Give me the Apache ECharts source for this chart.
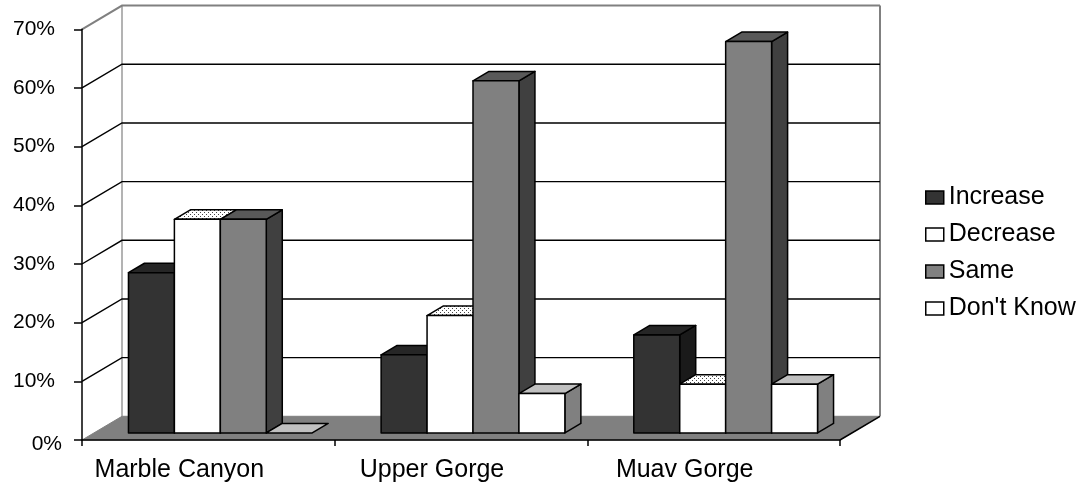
<!DOCTYPE html>
<html>
<head>
<meta charset="utf-8">
<script src="https://cdn.jsdelivr.net/npm/echarts@6/dist/echarts.min.js"></script>
<style>
  html, body { margin: 0; padding: 0; background: #ffffff; }
  #chart { width: 1086px; height: 487px; }
</style>
</head>
<body>
<div id="chart"></div>
<script>
// Survey answers per canyon reach (share of respondents, %)
const categories = ['Marble Canyon', 'Upper Gorge', 'Muav Gorge'];
const increase = [27.3, 13.3, 16.7];
const decrease = [36.4, 20.0, 8.3];
const same = [36.4, 60.0, 66.7];
const dontKnow = [0, 6.7, 8.3];
const valueTicks = [0, 10, 20, 30, 40, 50, 60, 70];

const FONT = "'Liberation Sans', Arial, Helvetica, sans-serif";

// Perspective offset from the front plane to the back wall
const DX = 40, DY = -23.7;
// Bars sit part-way into the box and take up part of its depth
const BAR_FRONT = 0.3, BAR_DEPTH = 0.4;
// Gap between clusters, in bar widths
const GAP = 1.5;

// Stippled fill used on the top of the "Decrease" bars
const stipple = (function () {
  const c = document.createElement('canvas');
  c.width = 4; c.height = 4;
  const g = c.getContext('2d');
  g.fillStyle = '#ffffff'; g.fillRect(0, 0, 4, 4);
  g.fillStyle = '#444444';
  g.fillRect(0, 0, 1, 1);
  g.fillRect(2, 2, 1, 1);
  return c;
})();

const seriesDefs = [
  { name: 'Increase',   data: increase, front: '#333333', top: '#262626', side: '#1a1a1a' },
  { name: 'Decrease',   data: decrease, front: '#ffffff', top: { image: stipple, repeat: 'repeat' }, side: '#bfbfbf' },
  { name: 'Same',       data: same,     front: '#808080', top: '#595959', side: '#404040' },
  { name: "Don't Know", data: dontKnow, front: '#ffffff', top: '#c0c0c0', side: '#808080' }
];

const edge = { stroke: '#000000', lineWidth: 1.5, lineJoin: 'round' };

function barRenderer(k, def) {
  return function (params, api) {
    const i = api.value(0);
    const v = api.value(1);
    const band = api.size([1, 0])[0];
    const w = band / (seriesDefs.length + GAP);
    const base = api.coord([i, 0]);
    const topY = api.coord([i, v])[1];
    const x0 = base[0] - band / 2 + w * GAP / 2 + k * w + BAR_FRONT * DX;
    const x1 = x0 + w;
    const yT = topY + BAR_FRONT * DY;
    const yB = base[1] + BAR_FRONT * DY;
    const dx = BAR_DEPTH * DX, dy = BAR_DEPTH * DY;
    const children = [];
    if (yB - yT > 0.5) {
      children.push({
        type: 'polygon',
        shape: { points: [[x1, yT], [x1 + dx, yT + dy], [x1 + dx, yB + dy], [x1, yB]] },
        style: Object.assign({ fill: def.side }, edge)
      });
    }
    children.push({
      type: 'polygon',
      shape: { points: [[x0, yT], [x1, yT], [x1 + dx, yT + dy], [x0 + dx, yT + dy]] },
      style: Object.assign({ fill: def.top }, edge)
    });
    if (yB - yT > 0.5) {
      children.push({
        type: 'rect',
        shape: { x: x0, y: yT, width: w, height: yB - yT },
        style: Object.assign({ fill: def.front }, edge)
      });
    }
    return { type: 'group', children: children };
  };
}

// Back wall, side wall gridlines and floor of the box
function wallRenderer(params, api) {
  const cs = params.coordSys;
  const v = api.value(1);
  const y = api.coord([0, v])[1];
  const xl = cs.x, xr = cs.x + cs.width;
  const yt = cs.y, yb = cs.y + cs.height;
  const children = [];
  if (params.dataIndex === 0) {
    children.push({
      type: 'line', z2: 1,
      shape: { x1: xl + DX, y1: yt + DY, x2: xl + DX, y2: yb + DY },
      style: { stroke: '#808080', lineWidth: 1.2 }
    });
    children.push({
      type: 'line', z2: 1,
      shape: { x1: xr + DX, y1: yt + DY, x2: xr + DX, y2: yb + DY },
      style: { stroke: '#808080', lineWidth: 2 }
    });
    children.push({
      type: 'polygon', z2: 5,
      shape: { points: [[xl, yb], [xr, yb], [xr + DX, yb + DY], [xl + DX, yb + DY]] },
      style: { fill: '#808080', stroke: '#808080', lineWidth: 1 }
    });
    children.push({
      type: 'line', z2: 6,
      shape: { x1: xr, y1: yb, x2: xr + DX, y2: yb + DY },
      style: { stroke: '#000000', lineWidth: 1.5 }
    });
  } else {
    const isTop = v === valueTicks[valueTicks.length - 1];
    children.push({
      type: 'polyline', z2: isTop ? 3 : 2,
      shape: { points: [[xl, y], [xl + DX, y + DY], [xr + DX, y + DY]] },
      style: { stroke: isTop ? '#808080' : '#000000', lineWidth: isTop ? 2 : 1.4, fill: null }
    });
  }
  return { type: 'group', children: children };
}

const chart = echarts.init(document.getElementById('chart'), null, { renderer: 'canvas' });

const series = [{
  type: 'custom',
  name: 'box',
  z: 1,
  silent: true,
  clip: false,
  renderItem: wallRenderer,
  encode: { x: 0, y: 1 },
  data: valueTicks.map(function (v) { return [0, v]; })
}];

seriesDefs.forEach(function (def, k) {
  series.push({
    type: 'custom',
    name: def.name,
    z: 3 + k,
    silent: true,
    clip: false,
    itemStyle: { color: typeof def.front === 'string' ? def.front : '#ffffff' },
    renderItem: barRenderer(k, def),
    encode: { x: 0, y: 1 },
    data: def.data.map(function (v, i) { return [i, v]; })
  });
});

chart.setOption({
  animation: false,
  backgroundColor: '#ffffff',
  grid: { left: 82, top: 29.3, width: 758, height: 410.7, containLabel: false },
  legend: {
    orient: 'vertical',
    left: 920,
    top: 180,
    itemWidth: 18,
    itemHeight: 13,
    itemGap: 12,
    selectedMode: false,
    textStyle: { fontSize: 25, lineHeight: 25, color: '#000000', fontFamily: FONT },
    data: seriesDefs.map(function (def) {
      return {
        name: def.name,
        icon: 'rect',
        itemStyle: {
          color: typeof def.front === 'string' ? def.front : '#ffffff',
          borderColor: '#000000',
          borderWidth: 1.5
        }
      };
    })
  },
  xAxis: {
    type: 'category',
    data: categories,
    z: 10,
    boundaryGap: true,
    axisLine: { show: true, lineStyle: { color: '#000000', width: 1.5 } },
    axisTick: { show: true, length: 6, alignWithLabel: false, lineStyle: { color: '#000000', width: 1.5 } },
    axisLabel: {
      fontSize: 25, color: '#000000', fontFamily: FONT,
      margin: 18, padding: [0, 58, 0, 0], interval: 0
    },
    splitLine: { show: false }
  },
  yAxis: {
    type: 'value',
    min: 0, max: 70, interval: 10,
    z: 10,
    axisLine: { show: true, lineStyle: { color: '#000000', width: 1.5 } },
    axisTick: { show: true, length: 8, lineStyle: { color: '#000000', width: 1.5 } },
    splitLine: { show: false },
    axisLabel: {
      margin: 20,
      formatter: function (v) { return v === 0 ? '{z|0%}' : '{n|' + v + '%}'; },
      rich: {
        n: { fontSize: 21, color: '#000000', fontFamily: FONT, padding: [0, 7, 0, 0] },
        z: { fontSize: 21, color: '#000000', fontFamily: FONT, padding: [8, 0, 0, 0] }
      }
    }
  },
  series: series
});
</script>
</body>
</html>
